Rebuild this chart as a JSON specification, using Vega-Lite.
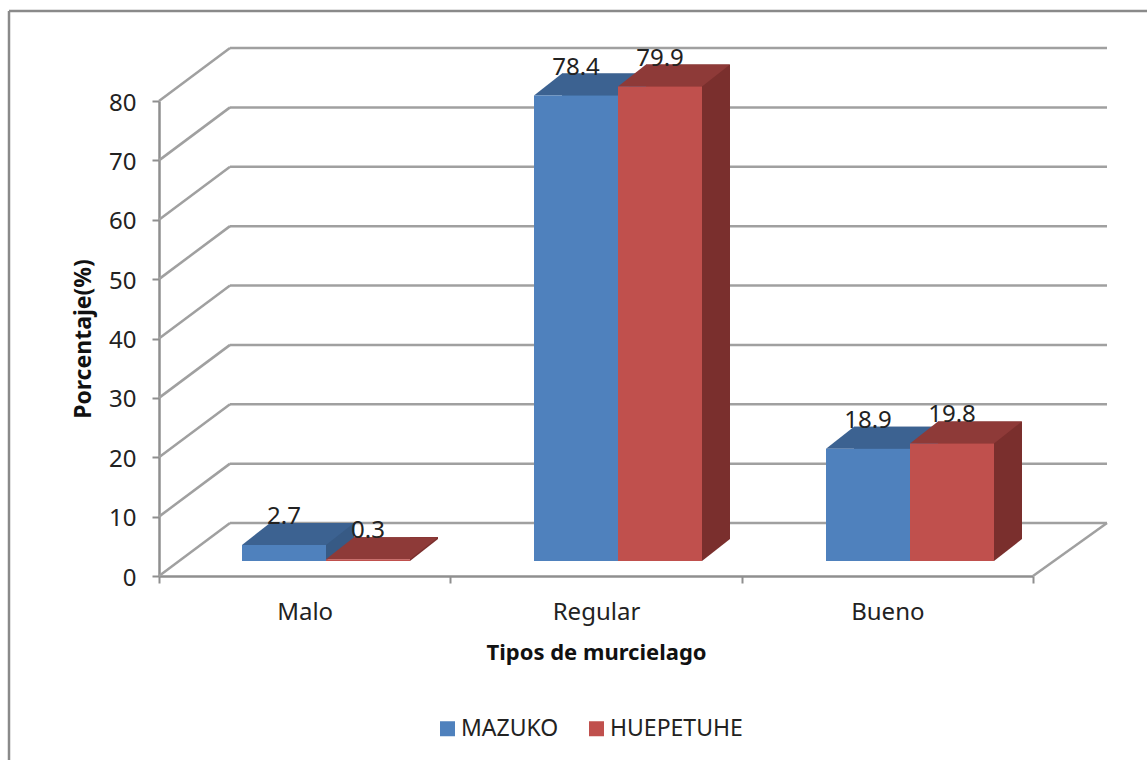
{
"$schema":"https://vega.github.io/schema/vega-lite/v6.json",
"width":1138,"height":749,
"autosize":{"type":"none"},
"padding":{"left":9,"top":11,"right":0,"bottom":0},
"background":"white",
"config":{"view":{"stroke":null},"font":"Noto Sans"},
"datasets":{
"bars":[
{"Tipo":"Malo","Lugar":"MAZUKO","pct":2.7},
{"Tipo":"Malo","Lugar":"HUEPETUHE","pct":0.3},
{"Tipo":"Regular","Lugar":"MAZUKO","pct":78.4},
{"Tipo":"Regular","Lugar":"HUEPETUHE","pct":79.9},
{"Tipo":"Bueno","Lugar":"MAZUKO","pct":18.9},
{"Tipo":"Bueno","Lugar":"HUEPETUHE","pct":19.8}],
"grid":[{"g":0},{"g":10},{"g":20},{"g":30},{"g":40},{"g":50},{"g":60},{"g":70},{"g":80}],
"frame":[{"f":1}]
},
"resolve":{"scale":{"x":"independent","y":"independent","color":"independent","xOffset":"independent"},"axis":{"x":"independent","y":"independent"}},
"layer":[
{"data":{"name":"frame"},"layer":[
{"mark":{"type":"rule","stroke":"#8a8a8a","strokeWidth":2.5},
 "encoding":{"x":{"datum":0,"type":"quantitative","scale":{"domain":[0,1],"range":[0,1138]},"axis":null},"y":{"datum":0,"type":"quantitative","scale":{"domain":[0,1],"range":[749,0]},"axis":null},"y2":{"datum":1}}},
{"mark":{"type":"rule","stroke":"#8a8a8a","strokeWidth":2.5},
 "encoding":{"x":{"datum":0,"type":"quantitative"},"x2":{"datum":1},"y":{"datum":1,"type":"quantitative"}}}
]},
{"data":{"name":"bars"},
 "mark":{"type":"rule","opacity":0},
 "encoding":{"x":{"field":"Tipo","type":"nominal","sort":null,
   "scale":{"domain":["Malo","Regular","Bueno"],"range":[150,1024],"paddingInner":0,"paddingOuter":0},
   "axis":{"orient":"bottom","title":"Tipos de murcielago","offset":-184,"labelAngle":0,"tickBand":"extent","tickSize":7,"tickWidth":2,"tickColor":"#8f8f8f","domainColor":"#8f8f8f","domainWidth":2.5,"labelFontSize":24,"labelColor":"#222222","labelPadding":17,"titleFontSize":22,"titleFontWeight":"bold","titleColor":"#111111","titlePadding":18,"grid":false}}}},
{"data":{"name":"grid"},
 "layer":[
 {"mark":{"type":"rule","stroke":"#a0a0a0","strokeWidth":2.5,"yOffset":-53,"xOffset":71,"x2Offset":74},
  "encoding":{"x":{"datum":0,"type":"quantitative","scale":{"domain":[0,3],"range":[150,1024]},"axis":null},"x2":{"datum":3},
  "y":{"field":"g","type":"quantitative","scale":{"domain":[0,80],"range":[565,90],"nice":false},
    "axis":{"orient":"left","title":"Porcentaje(%)","offset":-150,"values":[0,10,20,30,40,50,60,70,80],"tickSize":7,"tickWidth":2,"tickColor":"#8f8f8f","domainColor":"#8f8f8f","domainWidth":2.5,"labelFontSize":24,"labelColor":"#222222","labelPadding":16,"labelOffset":2,"titleFontSize":23,"titleFontWeight":"bold","titleColor":"#111111","titlePadding":13,"grid":false}}}},
 {"mark":{"type":"rule","stroke":"#a0a0a0","strokeWidth":2.5,"x2Offset":71,"y2Offset":-53},
  "encoding":{"x":{"datum":0,"type":"quantitative","scale":{"domain":[0,3],"range":[150,1024]},"axis":null},"x2":{"datum":0},
  "y":{"field":"g","type":"quantitative"},"y2":{"field":"g"}}},
 {"transform":[{"filter":"datum.g===0"}],
  "mark":{"type":"rule","stroke":"#a0a0a0","strokeWidth":2.5,"x2Offset":74,"y2Offset":-53},
  "encoding":{"x":{"datum":3,"type":"quantitative"},"x2":{"datum":3},
  "y":{"field":"g","type":"quantitative"},"y2":{"field":"g"}}}
 ]},
{"data":{"name":"bars"},
 "mark":{"type":"bar"},
 "encoding":{
  "x":{"field":"Tipo","type":"nominal","scale":{"domain":["Malo","Regular","Bueno"],"range":[199.5,1075.5],"paddingInner":0,"paddingOuter":0},"axis":null},
  "xOffset":{"field":"Lugar","type":"nominal","scale":{"domain":["MAZUKO","HUEPETUHE"],"range":[61.5,229.5],"paddingInner":0,"paddingOuter":0}},
  "y":{"field":"pct","type":"quantitative","stack":null,"scale":{"domain":[0,80],"range":[528,53],"nice":false},"axis":null},
  "color":{"field":"Lugar","type":"nominal","legend":null,"scale":{"domain":["MAZUKO","HUEPETUHE"],"range":["#375a85","#7a2f2d"]}}}},
{"data":{"name":"bars"},
 "encoding":{
  "x":{"field":"Tipo","type":"nominal","scale":{"domain":["Malo","Regular","Bueno"],"range":[171.5,1047.5],"paddingInner":0,"paddingOuter":0},"axis":null},
  "xOffset":{"field":"Lugar","type":"nominal","scale":{"domain":["MAZUKO","HUEPETUHE"],"range":[61.5,229.5],"paddingInner":0,"paddingOuter":0}}},
 "resolve":{"scale":{"color":"independent"}},
 "layer":[
 {"mark":{"type":"point","filled":true,"opacity":1,"size":4,"shape":"M42,0L70,-22L70,-24L42,-24Z","strokeWidth":0},
  "encoding":{"y":{"datum":0,"type":"quantitative","scale":{"domain":[0,80],"range":[550,75],"nice":false},"axis":null},
  "color":{"field":"Lugar","type":"nominal","legend":null,"scale":{"domain":["MAZUKO","HUEPETUHE"],"range":["#375a85","#7a2f2d"]}}}},
 {"mark":{"type":"point","filled":true,"opacity":1,"size":4,"shape":"M-42,0L42,0L70,-22L-14,-22Z","strokeWidth":0},
  "encoding":{"y":{"field":"pct","type":"quantitative"},
  "color":{"field":"Lugar","type":"nominal","legend":null,"scale":{"domain":["MAZUKO","HUEPETUHE"],"range":["#3c6291","#8e3a38"]}}}},
 {"mark":{"type":"bar"},
  "encoding":{"y":{"field":"pct","type":"quantitative","stack":null},
  "color":{"field":"Lugar","type":"nominal","title":null,"scale":{"domain":["MAZUKO","HUEPETUHE"],"range":["#4f81bd","#c0504d"]},
   "legend":{"orient":"none","legendX":427,"legendY":706,"direction":"horizontal","symbolType":"square","symbolSize":225,"symbolStrokeWidth":0,"labelFontSize":23,"labelColor":"#222222","columnPadding":26,"labelOffset":2,"title":null}}}},
 {"mark":{"type":"text","dy":-28,"fontSize":24,"color":"#222222"},
  "encoding":{"y":{"field":"pct","type":"quantitative"},"text":{"field":"pct","type":"quantitative","format":".1f"}}}
 ]}
]}
